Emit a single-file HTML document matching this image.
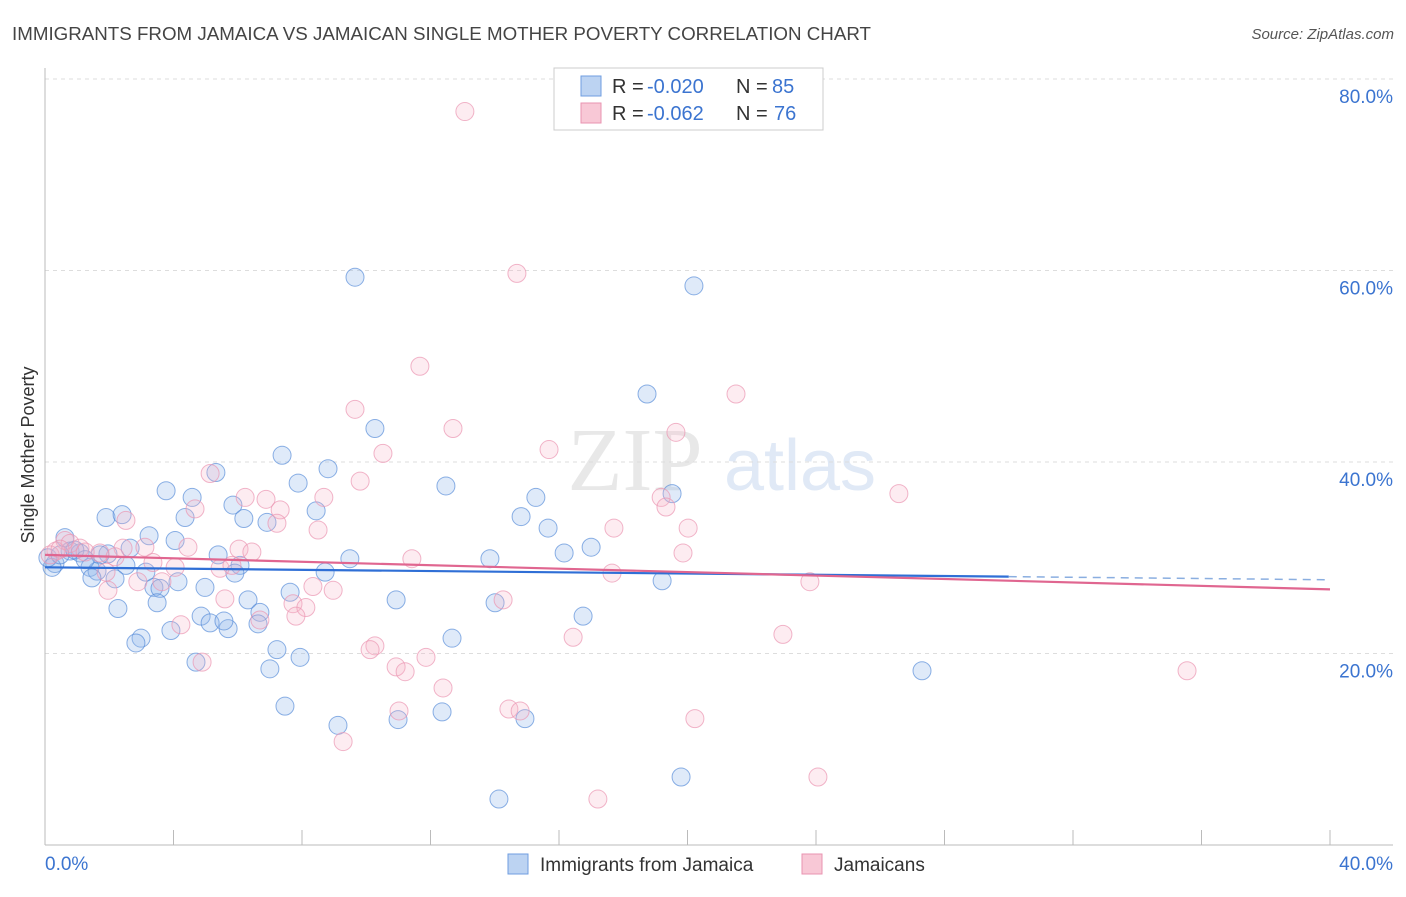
<!DOCTYPE html>
<html><head><meta charset="utf-8"><style>
body{margin:0;background:#fff;font-family:"Liberation Sans",sans-serif;}
</style></head><body>
<svg id="c" width="1406" height="892" xmlns="http://www.w3.org/2000/svg" style="font-family:'Liberation Sans',sans-serif">
<text x="12" y="40" font-size="18" fill="#444" textLength="859" lengthAdjust="spacingAndGlyphs">IMMIGRANTS FROM JAMAICA VS JAMAICAN SINGLE MOTHER POVERTY CORRELATION CHART</text>
<text x="1394" y="39" font-size="15" fill="#555" font-style="italic" text-anchor="end">Source: ZipAtlas.com</text>
<g><text x="635" y="490" font-size="90" fill="#e8e8e8" font-family="'Liberation Serif',serif" text-anchor="middle">ZIP</text><text x="800" y="490" font-size="72" fill="#e0e9f6" text-anchor="middle">atlas</text></g>
<g id="grid"></g><g id="axes"></g><g id="pts"></g><g id="trend"></g>
<text x="34" y="455" font-size="18" fill="#333" transform="rotate(-90 34 455)" text-anchor="middle">Single Mother Poverty</text>
<g>
<rect x="554" y="68" width="269" height="62" fill="#fff" stroke="#ccc"/>
<rect x="581" y="76" width="20" height="20" fill="#bcd3f2" stroke="#6f9ee0"/>
<rect x="581" y="103" width="20" height="20" fill="#f8c8d6" stroke="#e993b0"/>
<text x="612" y="93" font-size="20" fill="#333">R =</text><text x="647" y="93" font-size="20" fill="#3b74d0">-0.020</text>
<text x="736" y="93" font-size="20" fill="#333">N =</text><text x="772" y="93" font-size="20" fill="#3b74d0">85</text>
<text x="612" y="120" font-size="20" fill="#333">R =</text><text x="647" y="120" font-size="20" fill="#3b74d0">-0.062</text>
<text x="736" y="120" font-size="20" fill="#333">N =</text><text x="774" y="120" font-size="20" fill="#3b74d0">76</text>
</g>
<g>
<rect x="508" y="854" width="20" height="20" fill="#bcd3f2" stroke="#6f9ee0"/>
<text x="540" y="871" font-size="19" fill="#333">Immigrants from Jamaica</text>
<rect x="802" y="854" width="20" height="20" fill="#f8c8d6" stroke="#e993b0"/>
<text x="834" y="871" font-size="19" fill="#333">Jamaicans</text>
</g>
</svg>
<script>
const yTicks=[20,40,60,80];
const xTickLabels=["0.0%","40.0%"];
const blueX=[9.65,20.2,18.74,10.27,7.38,8.81,5.32,12.48,7.88,3.77,4.58,19.52,15.28,5.85,8.44,1.90,2.40,4.36,6.19,6.91,14.82,15.66,3.24,0.62,4.05,17.0,16.16,2.65,5.39,9.49,13.85,6.07,1.96,0.78,1.09,1.71,0.31,0.22,2.52,1.40,1.62,3.14,5.91,8.72,19.21,4.14,1.46,2.18,4.98,3.39,3.58,7.63,3.49,6.32,10.93,14.01,2.27,6.69,16.75,4.86,6.63,5.14,5.70,5.57,3.92,2.99,2.83,12.67,7.22,7.94,4.70,7.00,27.30,7.47,12.36,9.12,10.99,14.94,19.80,14.13,0.09,0.47,0.93,1.25];
const blueY=[59.3,58.4,47.1,43.5,40.7,39.3,38.9,37.5,37.8,37.0,36.3,36.7,36.3,35.5,34.9,34.2,34.5,34.2,34.1,33.7,34.3,33.1,32.3,32.1,31.8,31.1,30.5,31.0,30.3,29.9,29.9,29.2,30.4,30.7,30.5,30.3,29.4,29.0,29.2,29.0,28.6,28.5,28.4,28.5,27.6,27.5,27.9,27.8,26.9,26.9,26.8,26.4,25.3,25.6,25.6,25.3,24.7,24.3,23.9,23.9,23.1,23.2,22.6,23.4,22.4,21.6,21.1,21.6,20.4,19.6,19.1,18.4,18.2,14.5,13.9,12.5,13.1,13.2,7.1,4.8,30.0,30.3,30.8,29.8];
const pinkX=[13.07,14.69,11.67,9.65,21.51,12.70,19.64,15.69,10.52,5.14,9.81,26.58,19.18,6.23,6.88,8.68,4.67,7.32,19.33,2.52,17.71,20.02,7.22,8.50,0.62,0.78,4.45,6.04,19.86,2.43,3.11,11.42,3.36,6.44,0.34,1.09,1.71,2.18,4.05,5.45,17.65,1.90,2.89,3.64,5.82,23.81,8.34,8.97,1.96,5.60,7.72,8.12,14.26,7.81,6.69,4.23,22.97,16.44,10.27,10.12,11.86,10.93,11.21,4.89,35.55,12.39,14.44,14.79,11.02,20.23,9.28,24.06,17.21,0.16,0.47,1.25];
const pinkY=[76.6,59.7,50.0,45.5,47.1,43.5,43.1,41.3,40.9,38.8,38.0,36.7,36.3,36.3,36.1,36.3,35.1,35.0,35.3,33.9,33.1,33.1,33.6,32.9,31.8,31.5,31.1,30.9,30.5,31.0,31.1,29.9,29.5,30.6,30.7,31.0,30.5,30.1,29.0,28.9,28.4,28.5,27.5,27.5,29.2,27.5,27.0,26.6,26.6,25.7,25.2,24.8,25.6,23.9,23.5,23.0,22.0,21.7,20.8,20.4,19.6,18.6,18.1,19.1,18.2,16.4,14.2,14.0,14.0,13.2,10.8,7.1,4.8,30.3,30.9,30.6];
const blueTrend=[29.0,27.7];
const pinkTrend=[30.3,26.7];
const blueSolidEnd=30;
const NS="http://www.w3.org/2000/svg";
const X=v=>45+v*32.125, Y=v=>845-v*9.575;
function mk(t,a,p){const e=document.createElementNS(NS,t);for(const k in a)e.setAttribute(k,a[k]);document.getElementById(p).appendChild(e);return e;}
yTicks.forEach(t=>{
 const l=mk('line',{x1:45,x2:1393,y1:Y(t),y2:Y(t),stroke:'#ddd','stroke-dasharray':'4,4'},'grid');
 
 
 const tx=mk('text',{x:1393,y:Y(t)+24,'font-size':19,fill:'#3b74d0','text-anchor':'end'},'grid');
 tx.textContent=t.toFixed(1)+'%';
 
 
});
let a=mk('line',{x1:45,x2:45,y1:68,y2:845,stroke:'#bbb'},'axes');


a=mk('line',{x1:45,x2:1393,y1:845,y2:845,stroke:'#bbb'},'axes');


for(let v=4;v<=40;v+=4){const t=mk('line',{x1:X(v),x2:X(v),y1:830,y2:845,stroke:'#bbb'},'axes');
 
 }
let xl=mk('text',{x:45,y:870,'font-size':19,fill:'#3b74d0'},'axes');xl.textContent=xTickLabels[0];


xl=mk('text',{x:1393,y:870,'font-size':19,fill:'#3b74d0','text-anchor':'end'},'axes');xl.textContent=xTickLabels[1];


function pts(xs,ys,fill,stroke,name){xs.forEach((x,i)=>{const c=mk('circle',{cx:X(x),cy:Y(ys[i]),r:9,fill:fill,stroke:stroke,'stroke-width':1},'pts');
 
 });}
pts(blueX,blueY,'rgba(150,185,235,0.3)','rgba(80,135,215,0.65)','immigrants-point');
pts(pinkX,pinkY,'rgba(248,180,200,0.25)','rgba(235,150,178,0.7)','jamaicans-point');
const bAt=v=>blueTrend[0]+(blueTrend[1]-blueTrend[0])*v/40;
let t=mk('line',{x1:X(0),y1:Y(bAt(0)),x2:X(blueSolidEnd),y2:Y(bAt(blueSolidEnd)),stroke:'#2f6fd6','stroke-width':2.2},'trend');


t=mk('line',{x1:X(blueSolidEnd),y1:Y(bAt(blueSolidEnd)),x2:X(40),y2:Y(bAt(40)),stroke:'#8aaee0','stroke-width':1.5,'stroke-dasharray':'8,6'},'trend');


t=mk('line',{x1:X(0),y1:Y(pinkTrend[0]),x2:X(40),y2:Y(pinkTrend[1]),stroke:'#e06690','stroke-width':2.2},'trend');


</script>
</body></html>
